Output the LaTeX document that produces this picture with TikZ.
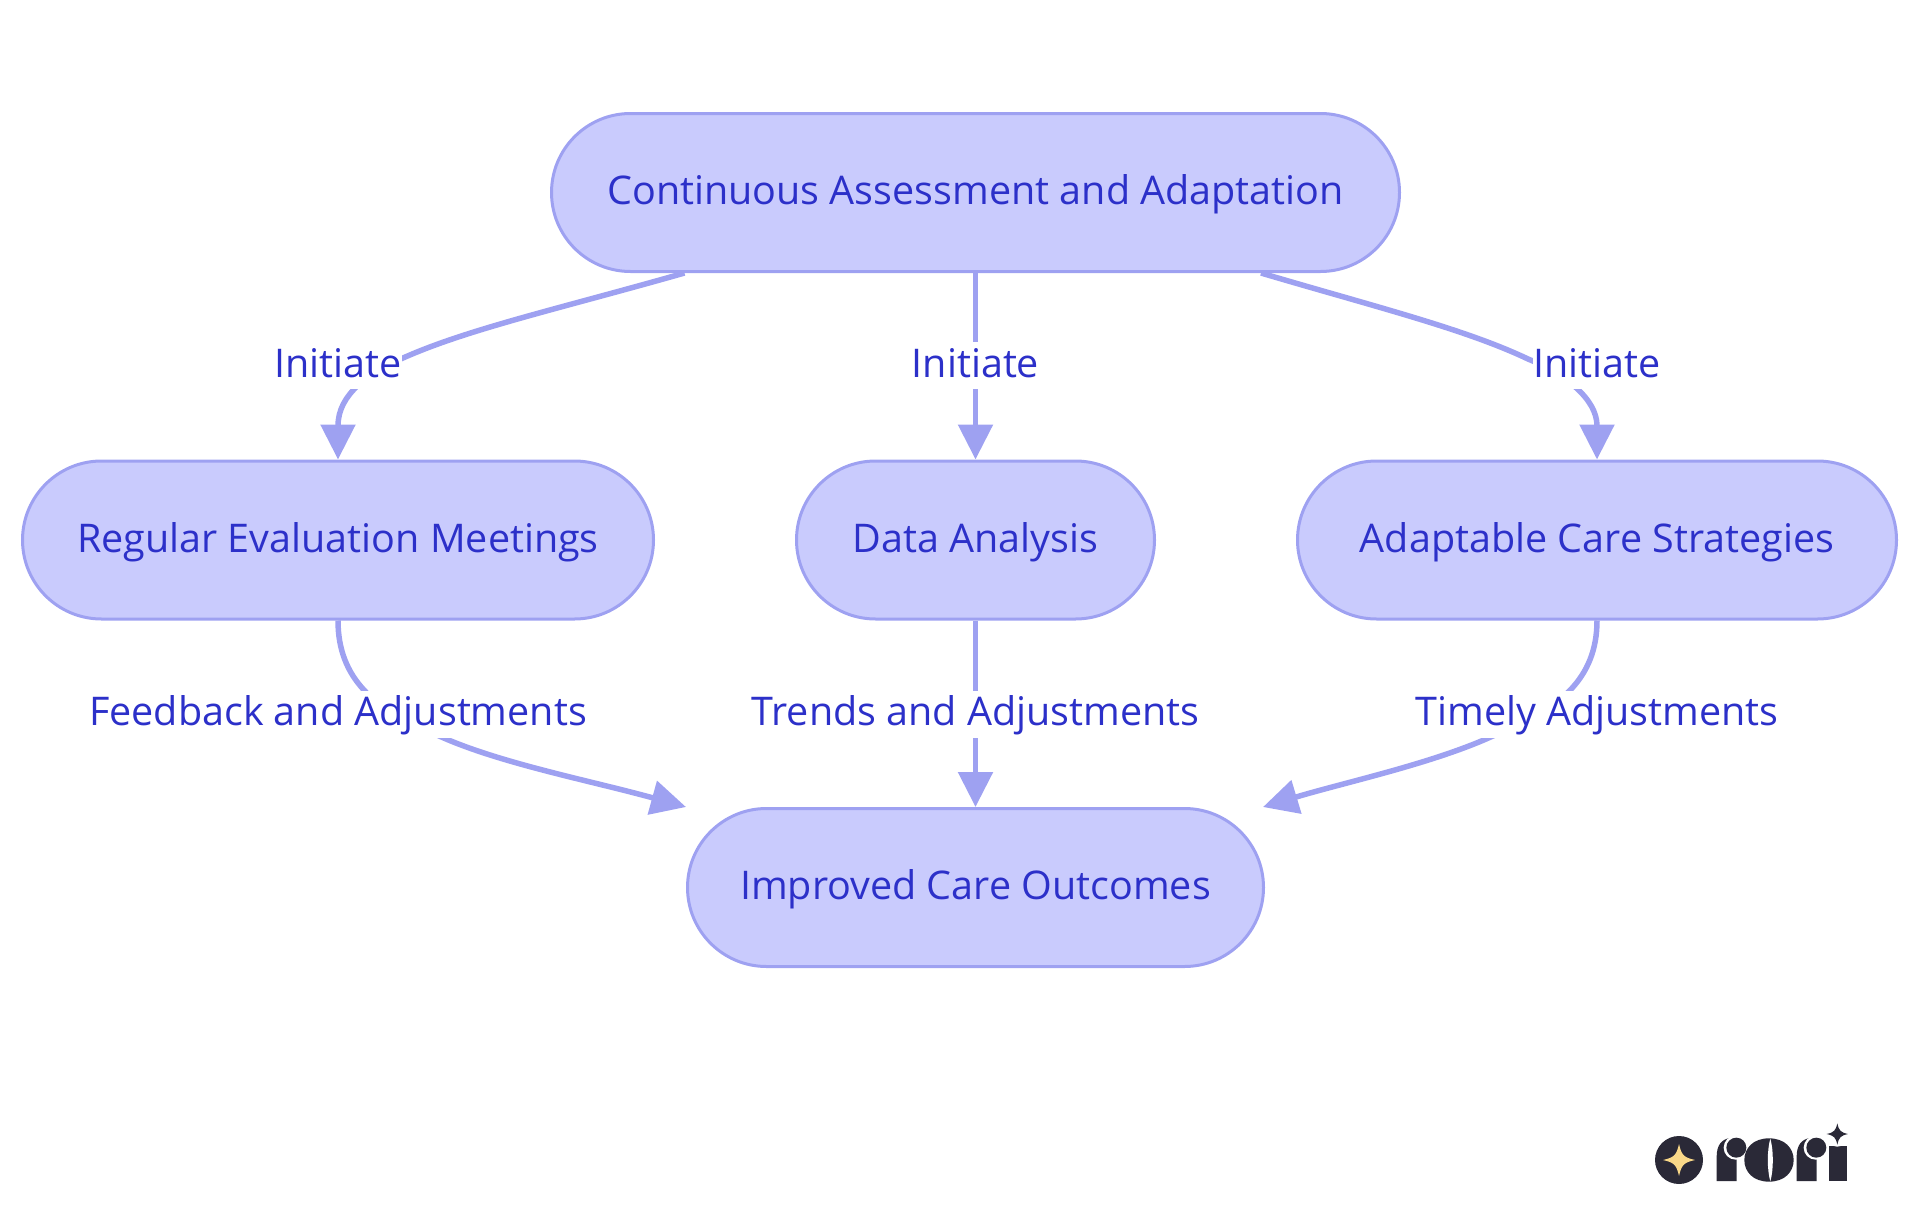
\documentclass[tikz,border=0pt]{standalone}
\usepackage{fontspec}
\setmainfont{Open Sans}
\usetikzlibrary{arrows.meta}
\definecolor{boxfill}{HTML}{C9CBFD}
\definecolor{boxline}{HTML}{9EA1F1}
\definecolor{ink}{HTML}{2C30C9}
\definecolor{logodark}{HTML}{2A2937}
\definecolor{logostar}{HTML}{F9D888}
\newcommand{\starpath}[3]{(#1,#2-#3) .. controls (#1+0.16*#3,#2-0.3*#3) and (#1+0.3*#3,#2-0.16*#3) .. (#1+#3,#2) .. controls (#1+0.3*#3,#2+0.16*#3) and (#1+0.16*#3,#2+0.3*#3) .. (#1,#2+#3) .. controls (#1-0.16*#3,#2+0.3*#3) and (#1-0.3*#3,#2+0.16*#3) .. (#1-#3,#2) .. controls (#1-0.3*#3,#2-0.16*#3) and (#1-0.16*#3,#2-0.3*#3) .. (#1,#2-#3) -- cycle}
\tikzset{
  x=1pt,y=-1pt,
  stadium/.style={draw=boxline,fill=boxfill,line width=3pt,rounded corners=79pt,minimum height=158pt,inner sep=0pt,text=ink,text height=32pt,text depth=8pt,font=\fontsize{39.5}{44}\selectfont},
  edgeline/.style={draw=boxline,line width=5.5pt,-{Triangle[length=35pt,width=34pt]}},
  edgelabel/.style={fill=white,text=ink,inner sep=0pt,text height=35pt,text depth=12pt,font=\fontsize{39.5}{44}\selectfont},
}
\begin{document}
\begin{tikzpicture}
\useasboundingbox (0,0) rectangle (1920,1215);
\node[stadium,minimum width=848pt] (top) at (975.5,192.5) {Continuous Assessment and Adaptation};
\node[stadium,minimum width=631pt] (reg) at (338,540) {Regular Evaluation Meetings};
\node[stadium,minimum width=358pt] (data) at (975.5,540) {Data Analysis};
\node[stadium,minimum width=599pt] (adapt) at (1597,540) {Adaptable Care Strategies};
\node[stadium,minimum width=576pt] (imp) at (975.5,887.5) {Improved Care Outcomes};

\path[edgeline] ([xshift=-291pt]top.south) .. controls (558,309) and (468,329) .. (403,358) .. controls (369,373) and (338,394) .. (reg.north);
\path[edgeline] (top.south) -- (data.north);
\path[edgeline] ([xshift=285.5pt]top.south) .. controls (1376,307) and (1465,329) .. (1528,359) .. controls (1565,374) and (1597,399) .. (adapt.north);
\path[edgeline] (reg.south) .. controls (338,678) and (374,710) .. (437,735) .. controls (498,763) and (588,780) .. (imp.north west);
\path[edgeline] (data.south) -- (imp.north);
\path[edgeline] (adapt.south) .. controls (1597,678) and (1560,710) .. (1495,735) .. controls (1435,763) and (1346,782) .. ([xshift=-2pt]imp.north east);

\node[edgelabel] (l1) at (338,365.5) {Initiate};
\node[edgelabel] (l2) at (975.5,365.5) {Initiate};
\node[edgelabel] (l3) at (1597,365.5) {Initiate};
\node[edgelabel] (l4) at (338,714) {Feedback and Adjustments};
\node[edgelabel] (l5) at (975.5,714) {Trends and Adjustments};
\node[edgelabel] (l6) at (1597,714) {Timely Adjustments};

\begin{scope}[shift={(1620,1100)},x=0.3333pt,y=-0.3333pt]
\fill[logodark] (177,180) circle[radius=72];
\fill[logostar] \starpath{177}{180}{48};
% r
\fill[logodark] (290,243) -- (290,170) .. controls (290,135) and (305,118) .. (330,114) -- (350,180) -- (350,243) -- cycle;
\fill[white] (347,143) circle[radius=36];
\fill[logodark] (349,143) circle[radius=30];
% o
\fill[logodark] (447,115) .. controls (495,115) and (521,145) .. (521,180) .. controls (521,215) and (495,245) .. (447,245) .. controls (399,245) and (373,215) .. (373,180) .. controls (373,145) and (399,115) .. (447,115) -- cycle;
\fill[white] (451,116) .. controls (461,150) and (461,210) .. (451,244) .. controls (441,210) and (441,150) .. (451,116) -- cycle;
% r
\fill[logodark] (530,243) -- (530,170) .. controls (530,135) and (545,118) .. (570,114) -- (590,180) -- (590,243) -- cycle;
\fill[white] (587,143) circle[radius=36];
\fill[logodark] (589,143) circle[radius=30];
% i
\fill[logodark] (627,243) -- (627,138) -- (680,138) -- (680,243) -- cycle;
\fill[white] (652,102) circle[radius=38];
\fill[logodark] \starpath{652}{102}{32};
\end{scope}
\end{tikzpicture}
\end{document}
